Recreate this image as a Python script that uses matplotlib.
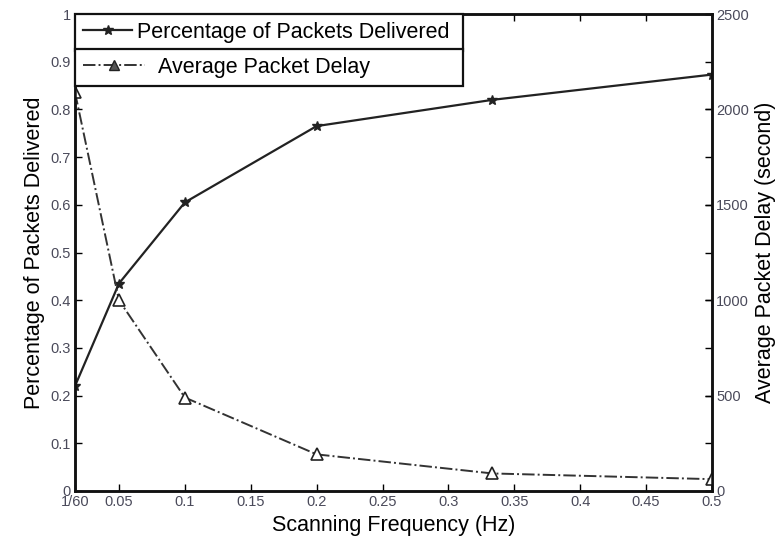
import matplotlib.pyplot as plt
from matplotlib.lines import Line2D

plt.rcParams['font.family'] = ['Liberation Sans', 'DejaVu Sans']

# data
freq = [1 / 60, 0.05, 0.1, 0.2, 1 / 3, 0.5]
delivered = [0.22, 0.435, 0.605, 0.765, 0.82, 0.873]
delay = [2090, 1000, 490, 192, 92, 62]

xticks = [1 / 60, 0.05, 0.1, 0.15, 0.2, 0.25, 0.3, 0.35, 0.4, 0.45, 0.5]
xlabels = ['1/60', '0.05', '0.1', '0.15', '0.2', '0.25', '0.3', '0.35', '0.4', '0.45', '0.5']
left_ticks = [0, 0.1, 0.2, 0.3, 0.4, 0.5, 0.6, 0.7, 0.8, 0.9, 1]
left_labels = ['0', '0.1', '0.2', '0.3', '0.4', '0.5', '0.6', '0.7', '0.8', '0.9', '1']
right_ticks = [0, 500, 1000, 1500, 2000, 2500]

tick_col = '#4a4a5a'

fig = plt.figure(figsize=(7.77, 5.42), dpi=100)
ax1 = fig.add_axes([75 / 777, 1 - 491 / 542, 637 / 777, 477 / 542])
ax2 = ax1.twinx()

l1, = ax1.plot(freq, delivered, '-', color='#222222', lw=1.6,
               marker='*', ms=7.5, mfc='#222222', mec='#222222')
l2, = ax2.plot(freq, delay, '-.', color='#333333', lw=1.4,
               marker='^', ms=8, mfc='white', mec='#222222', mew=1.2)

ax1.set_xlim(1 / 60, 0.5)
ax1.set_ylim(0, 1)
ax2.set_ylim(0, 2500)

ax1.set_xticks(xticks)
ax1.set_xticklabels(xlabels)
ax1.set_yticks(left_ticks)
ax1.set_yticklabels(left_labels)
ax2.set_yticks(right_ticks)

ax1.tick_params(direction='in', length=5, width=1, top=True, right=True,
                labelsize=10.5, labelcolor=tick_col, pad=3)
ax2.tick_params(direction='in', length=5, width=1, labelsize=10.5,
                labelcolor=tick_col, pad=3)

for ax in (ax1, ax2):
    for s in ax.spines.values():
        s.set_linewidth(1.8)
        s.set_color('#111111')

ax1.set_xlabel('Scanning Frequency (Hz)', fontsize=15.5, labelpad=4)
ax1.set_ylabel('Percentage of Packets Delivered', fontsize=15.5, labelpad=4)
ax2.set_ylabel('Average Packet Delay (second)', fontsize=15.5, labelpad=4)

# two stacked legend boxes, as in the original
leg_w = 388 / 637
leg_h = 35 / 477
h1 = Line2D([], [], color='#222222', lw=1.6, marker='*', ms=7.5)
h2 = Line2D([], [], color='#333333', lw=1.4, ls='-.', marker='^', ms=7,
            mfc='#555555', mec='#222222')
leg1 = ax2.legend([h1], ['Percentage of Packets Delivered'], loc='upper left',
                  bbox_to_anchor=(0, 1 - leg_h, leg_w, leg_h), mode='expand',
                  borderaxespad=0, fancybox=False, framealpha=1, edgecolor='#111111',
                  fontsize=15.5, handlelength=2.3, handletextpad=0.2,
                  borderpad=0.36)
leg1.get_frame().set_linewidth(1.6)
ax2.add_artist(leg1)
leg2 = ax2.legend([h2], ['Average Packet Delay'], loc='upper left',
                  bbox_to_anchor=(0, 1 - 2 * leg_h, leg_w, leg_h), mode='expand',
                  borderaxespad=0, fancybox=False, framealpha=1, edgecolor='#111111',
                  fontsize=15.5, handlelength=2.9, handletextpad=0.6,
                  borderpad=0.36)
leg2.get_frame().set_linewidth(1.6)

fig.savefig('out.png', dpi=100)
